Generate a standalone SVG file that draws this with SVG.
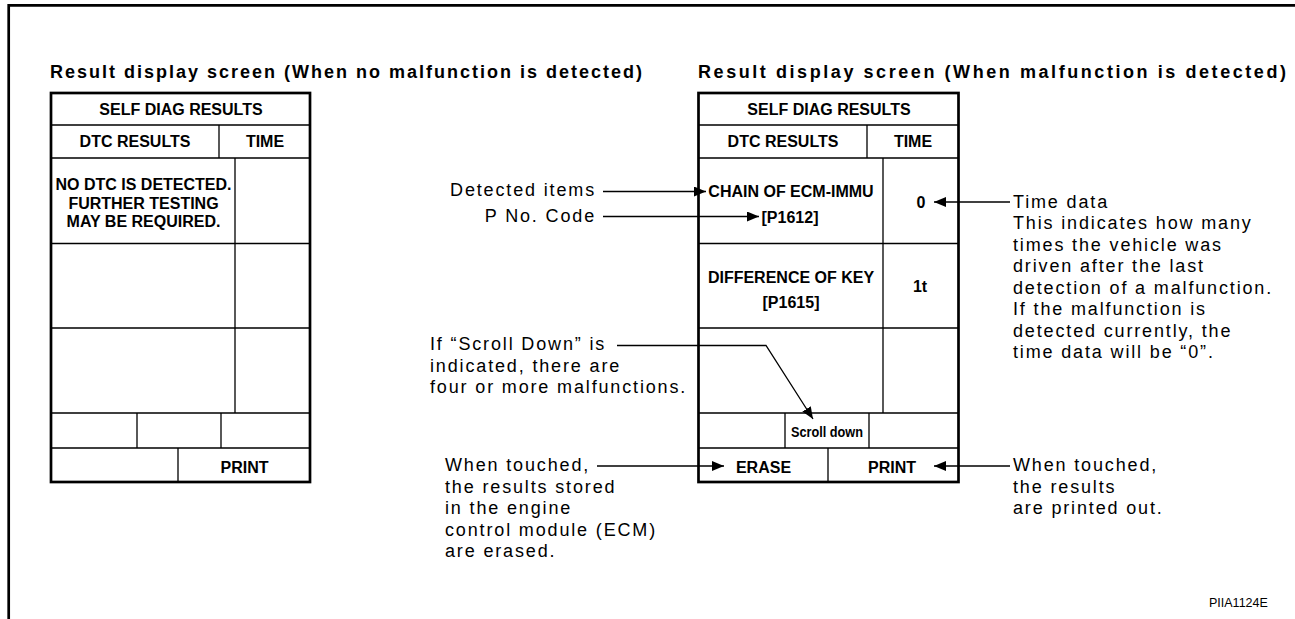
<svg xmlns="http://www.w3.org/2000/svg" width="1295" height="619" viewBox="0 0 1295 619">
<style>
.frame{fill:none;stroke:#000;stroke-width:2.7}
.tbl{fill:#fff;stroke:#000;stroke-width:2.7}
.grid{stroke:#000;stroke-width:1.3;fill:none}
.cell{font-family:"Liberation Sans",Arial,Helvetica,sans-serif;font-weight:bold;font-size:16px;text-anchor:middle;fill:#000}
.small{font-size:14px}
.title{font-family:"Liberation Sans",Arial,Helvetica,sans-serif;font-weight:bold;font-size:18px;fill:#000}
.note{font-family:"Liberation Sans",Arial,Helvetica,sans-serif;font-size:18px;letter-spacing:1.85px;fill:#000}
.end{text-anchor:end}
.code{font-family:"Liberation Sans",Arial,Helvetica,sans-serif;font-size:12.5px;fill:#000}
.conn{stroke:#000;stroke-width:1.3;fill:none;marker-end:url(#ah)}
</style>
<defs>
<marker id="ah" markerUnits="userSpaceOnUse" markerWidth="12" markerHeight="10" refX="12" refY="5" orient="auto">
<path d="M0,0 L12,5 L0,10 Z" fill="#000"/>
</marker>
</defs>
<path class="frame" d="M8.7,619 V5.3 H1295"/>
<text class="title" x="50" y="78" textLength="592" lengthAdjust="spacing">Result display screen (When no malfunction is detected)</text>
<text class="title" x="698" y="78" textLength="588" lengthAdjust="spacing">Result display screen (When malfunction is detected)</text>

<g id="screen-no-malfunction">
<rect class="tbl" x="51" y="93" width="259" height="389"/>
<path class="grid" d="M51,125H310 M51,158H310 M51,243.5H310 M51,328H310 M51,413H310 M51,448H310 M219,125V158 M235,158V413 M137,413V448 M221,413V448 M178,448V482"/>
<text class="cell" x="181" y="115">SELF DIAG RESULTS</text>
<text class="cell" x="135" y="147">DTC RESULTS</text>
<text class="cell" x="265" y="147">TIME</text>
<text class="cell" x="143.5" y="190">NO DTC IS DETECTED.</text>
<text class="cell" x="143.5" y="208.5">FURTHER TESTING</text>
<text class="cell" x="143.5" y="227">MAY BE REQUIRED.</text>
<text class="cell" x="244.5" y="473">PRINT</text>
</g>

<g id="screen-malfunction">
<rect class="tbl" x="698.5" y="93" width="260" height="389"/>
<path class="grid" d="M698.5,125H958.5 M698.5,158H958.5 M698.5,243.5H958.5 M698.5,328H958.5 M698.5,413H958.5 M698.5,448H958.5 M867,125V158 M883,158V413 M785,413V448 M869,413V448 M828,448V482"/>
<text class="cell" x="829" y="115">SELF DIAG RESULTS</text>
<text class="cell" x="783" y="147">DTC RESULTS</text>
<text class="cell" x="913" y="147">TIME</text>
<text class="cell" x="791" y="197">CHAIN OF ECM-IMMU</text>
<text class="cell" x="790" y="223">[P1612]</text>
<text class="cell" x="921" y="207.5">0</text>
<text class="cell" x="791" y="283">DIFFERENCE OF KEY</text>
<text class="cell" x="791" y="308">[P1615]</text>
<text class="cell" x="920" y="292">1t</text>
<text class="cell small" x="827" y="437" textLength="72" lengthAdjust="spacingAndGlyphs">Scroll down</text>
<text class="cell" x="763.5" y="473">ERASE</text>
<text class="cell" x="892" y="473">PRINT</text>
</g>

<g id="note-detected-items"><text class="note end" x="596" y="196">Detected items</text></g>
<g id="note-p-no-code"><text class="note end" x="596" y="221.5">P No. Code</text></g>
<g id="note-scroll-down">
<text class="note" x="430" y="350">If “Scroll Down” is</text>
<text class="note" x="430" y="371.5">indicated, there are</text>
<text class="note" x="430" y="393">four or more malfunctions.</text>
</g>
<g id="note-erase">
<text class="note" x="445" y="471">When touched,</text>
<text class="note" x="445" y="492.5">the results stored</text>
<text class="note" x="445" y="514">in the engine</text>
<text class="note" x="445" y="535.5">control module (ECM)</text>
<text class="note" x="445" y="557">are erased.</text>
</g>
<g id="note-time-data">
<text class="note" x="1013" y="207.5">Time data</text>
<text class="note" x="1013" y="229">This indicates how many</text>
<text class="note" x="1013" y="250.5">times the vehicle was</text>
<text class="note" x="1013" y="272">driven after the last</text>
<text class="note" x="1013" y="293.5">detection of a malfunction.</text>
<text class="note" x="1013" y="315">If the malfunction is</text>
<text class="note" x="1013" y="336.5">detected currently, the</text>
<text class="note" x="1013" y="358">time data will be “0”.</text>
</g>
<g id="note-print">
<text class="note" x="1013" y="471">When touched,</text>
<text class="note" x="1013" y="492.5">the results</text>
<text class="note" x="1013" y="514">are printed out.</text>
</g>

<g id="connectors">
<path class="conn" d="M603,191.5 H706"/>
<path class="conn" d="M603,216.5 H759"/>
<path class="conn" d="M617,345.5 H766 L813,419"/>
<path class="conn" d="M597,466 H724"/>
<path class="conn" d="M1010,202 H934"/>
<path class="conn" d="M1010,466 H934"/>
</g>

<text class="code" x="1209" y="607">PIIA1124E</text>
</svg>
